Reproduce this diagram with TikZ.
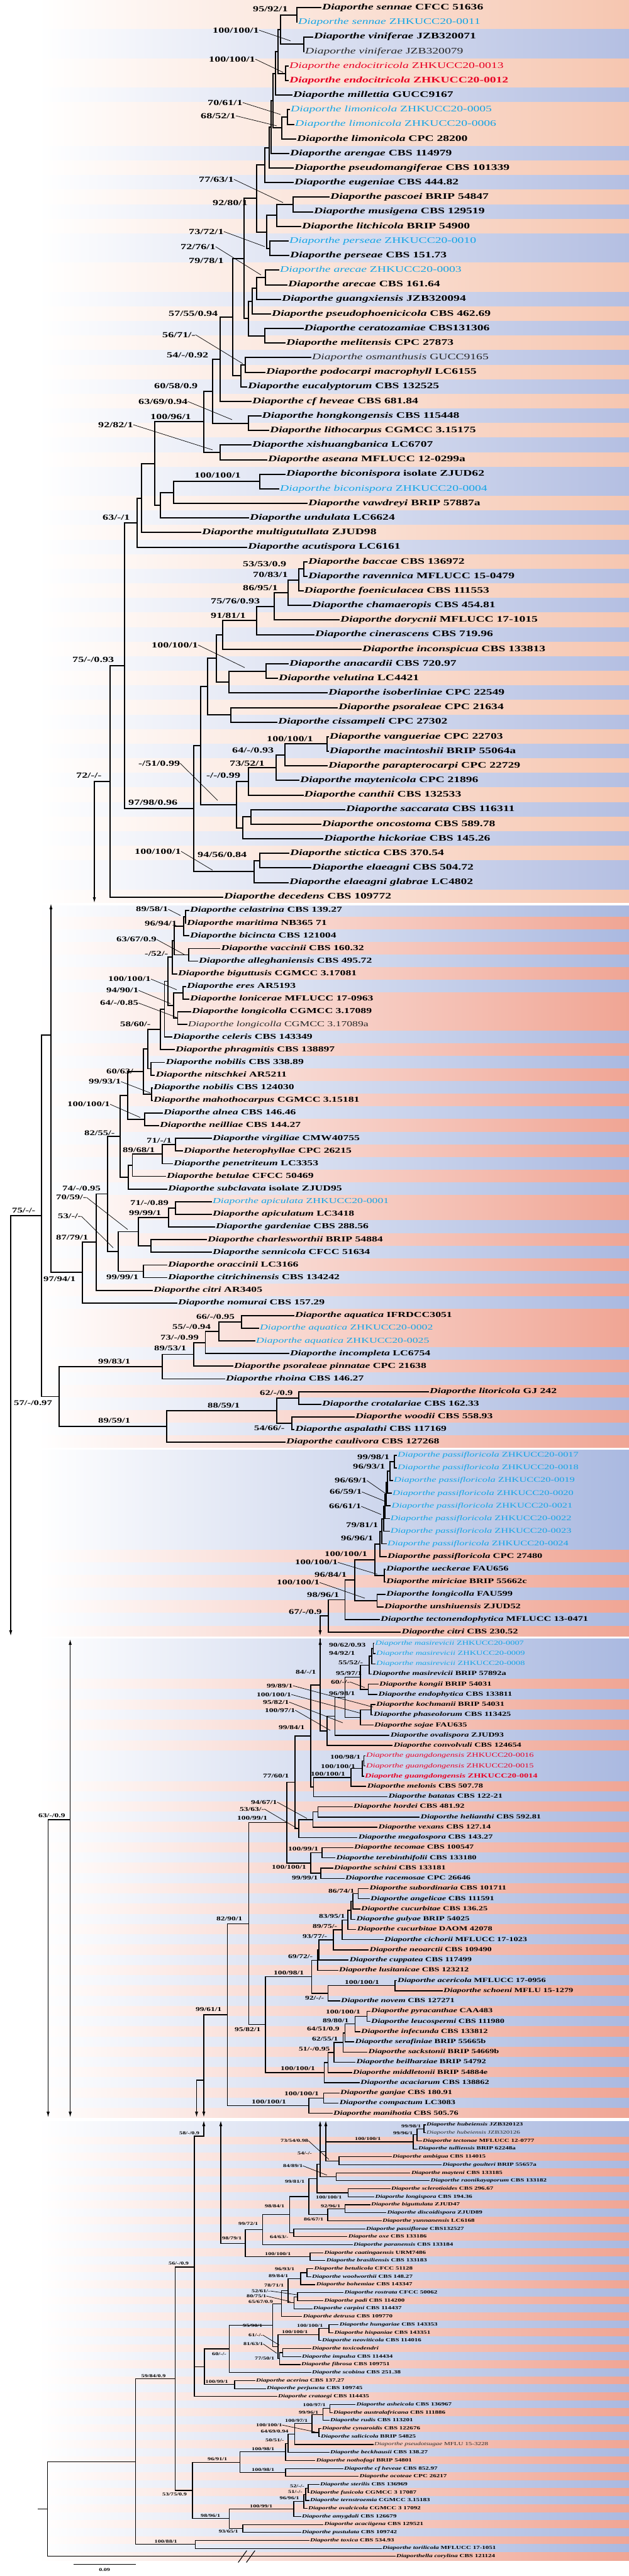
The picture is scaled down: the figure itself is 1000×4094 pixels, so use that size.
\documentclass[tikz,border=0pt]{standalone}
\usepackage{fontspec}
\setmainfont{Liberation Serif}
\newfontfamily\lbl[FakeStretch=1.45]{Liberation Serif}
\usetikzlibrary{positioning, calc, arrows.meta}
\pgfdeclarelayer{bg}
\pgfsetlayers{bg,main}

\definecolor{zblue}{RGB}{20,165,230}
\definecolor{zred}{RGB}{232,0,36}
\definecolor{bando}{RGB}{246,198,176}
\definecolor{bandb}{RGB}{180,191,226}

\newcount\svn
\def\bh{11.6}

% leaf: name, tip x, y, species, strain, style, band colour
\newcommand\lf[7]{%
  \node[leaf,#6] (#1) at (#2,#3) {\textit{#4} #5};
  \begin{pgfonlayer}{bg}
    \shade[left color=white, right color=band#7] (60,#3-\bh) rectangle (1000,#3+\bh);
  \end{pgfonlayer}}
% clade: name, x, child, child
\newcommand\cl[4]{%
  \coordinate (#1) at ($(#3)!.5!(#4)$);
  \coordinate (#1) at (#2,0 |- #1);
  \draw[br] (#1) |- (#3);
  \draw[br] (#1) |- (#4);}
% support value, with or without a leader line
\newcommand\sv[3]{\global\advance\svn by 1 \node[sup] (sv\the\svn) at (#1,#2) {#3};}
\newcommand\svl[4]{\sv{#1}{#2}{#3}\draw[ld] (sv\the\svn.east) -- (#4);}

\tikzset{
  leaf/.style={anchor=west, inner sep=2pt, leaffont},
  sup/.style={anchor=west, inner sep=0pt, supfont},
  nb/.style={text=black!85, execute at begin node=\mdseries},
  nz/.style={text=zblue, execute at begin node=\mdseries},
  rn/.style={text=zred, execute at begin node=\mdseries},
  rb/.style={text=zred},
  ld/.style={line width=0.7pt},
  arr/.style={line width=1.3pt, -{Latex[length=9pt,width=5pt]}},
}

\begin{document}
\begin{tikzpicture}[x=1pt,y=-1pt]
\useasboundingbox (0,0) rectangle (1000,4094);
\begin{pgfonlayer}{bg}
  \fill[white] (0,0) rectangle (1000,4094);
\end{pgfonlayer}

% ================= part 1 =================
\tikzset{leaffont/.style={font=\lbl\bfseries\fontsize{13.5}{15}\selectfont},
  supfont/.style={font=\lbl\bfseries\fontsize{12.5}{14}\selectfont},
  br/.style={line width=2pt, line cap=rect}}
\def\bh{11.6}
\lf{sen1}{510}{12.3}{Diaporthe sennae}{CFCC 51636}{}{o}
\lf{sen2}{472}{35.5}{Diaporthe sennae}{ZHKUCC20-0011}{nz}{o}
\lf{vin1}{497}{58.6}{Diaporthe viniferae}{JZB320071}{}{b}
\lf{vin2}{483}{81.8}{Diaporthe viniferae}{JZB320079}{nb}{b}
\lf{end1}{458}{105}{Diaporthe endocitricola}{ZHKUCC20-0013}{rn}{o}
\lf{end2}{458}{128.2}{Diaporthe endocitricola}{ZHKUCC20-0012}{rb}{o}
\lf{mil}{464}{151.3}{Diaporthe millettia}{GUCC9167}{}{b}
\lf{lim1}{460}{174.5}{Diaporthe limonicola}{ZHKUCC20-0005}{nz}{o}
\lf{lim2}{467}{197.7}{Diaporthe limonicola}{ZHKUCC20-0006}{nz}{o}
\lf{lim3}{470}{220.8}{Diaporthe limonicola}{CPC 28200}{}{o}
\lf{are}{459}{244}{Diaporthe arengae}{CBS 114979}{}{b}
\lf{psm}{466}{267.2}{Diaporthe pseudomangiferae}{CBS 101339}{}{o}
\lf{eug}{466}{290.3}{Diaporthe eugeniae}{CBS 444.82}{}{b}
\lf{pas}{523}{313.5}{Diaporthe pascoei}{BRIP 54847}{}{o}
\lf{mus}{497}{336.7}{Diaporthe musigena}{CBS 129519}{}{b}
\lf{lit}{478}{359.9}{Diaporthe litchicola}{BRIP 54900}{}{o}
\lf{per1}{458}{383}{Diaporthe perseae}{ZHKUCC20-0010}{nz}{b}
\lf{per2}{459}{406.2}{Diaporthe perseae}{CBS 151.73}{}{b}
\lf{arc1}{443}{429.4}{Diaporthe arecae}{ZHKUCC20-0003}{nz}{o}
\lf{arc2}{456}{452.5}{Diaporthe arecae}{CBS 161.64}{}{o}
\lf{gxi}{446}{475.7}{Diaporthe guangxiensis}{JZB320094}{}{b}
\lf{pph}{430}{498.9}{Diaporthe pseudophoenicicola}{CBS 462.69}{}{o}
\lf{cer}{481.5}{522}{Diaporthe ceratozamiae}{CBS131306}{}{b}
\lf{mel}{453}{545.2}{Diaporthe melitensis}{CPC 27873}{}{o}
\lf{osm}{494}{568.4}{Diaporthe osmanthusis}{GUCC9165}{nb}{b}
\lf{pod}{421}{591.6}{Diaporthe podocarpi macrophyll}{LC6155}{}{o}
\lf{euc}{392}{614.7}{Diaporthe eucalyptorum}{CBS 132525}{}{b}
\lf{cfh}{399}{637.9}{Diaporthe cf heveae}{CBS 681.84}{}{o}
\lf{hkg}{414.5}{661.1}{Diaporthe hongkongensis}{CBS 115448}{}{b}
\lf{lth}{427}{684.2}{Diaporthe lithocarpus}{CGMCC 3.15175}{}{o}
\lf{xsh}{399}{707.4}{Diaporthe xishuangbanica}{LC6707}{}{b}
\lf{ase}{424}{730.6}{Diaporthe aseana}{MFLUCC 12-0299a}{}{o}
\lf{bic1}{453}{753.7}{Diaporthe biconispora}{isolate ZJUD62}{}{b}
\lf{bic2}{443}{776.9}{Diaporthe biconispora}{ZHKUCC20-0004}{nz}{b}
\lf{vaw}{488}{800.1}{Diaporthe vawdreyi}{BRIP 57887a}{}{o}
\lf{und}{395}{823.3}{Diaporthe undulata}{LC6624}{}{b}
\lf{mgt}{319}{846.4}{Diaporthe multigutullata}{ZJUD98}{}{o}
\lf{acu}{392}{869.6}{Diaporthe acutispora}{LC6161}{}{b}
\lf{bac}{488}{892.8}{Diaporthe baccae}{CBS 136972}{}{o}
\lf{rav}{488}{915.9}{Diaporthe ravennica}{MFLUCC 15-0479}{}{b}
\lf{foe}{481.5}{939.1}{Diaporthe foeniculacea}{CBS 111553}{}{o}
\lf{cha}{494}{962.3}{Diaporthe chamaeropis}{CBS 454.81}{}{b}
\lf{dor}{539}{985.4}{Diaporthe dorycnii}{MFLUCC 17-1015}{}{o}
\lf{cin}{499}{1008.6}{Diaporthe cinerascens}{CBS 719.96}{}{b}
\lf{inc}{574}{1031.8}{Diaporthe inconspicua}{CBS 133813}{}{o}
\lf{ana}{458}{1054.9}{Diaporthe anacardii}{CBS 720.97}{}{b}
\lf{vel}{441}{1078.1}{Diaporthe velutina}{LC4421}{}{o}
\lf{iso}{520}{1101.3}{Diaporthe isoberliniae}{CPC 22549}{}{b}
\lf{pso}{536}{1124.5}{Diaporthe psoraleae}{CPC 21634}{}{o}
\lf{cis}{440}{1147.6}{Diaporthe cissampeli}{CPC 27302}{}{b}
\lf{van}{521.7}{1170.8}{Diaporthe vangueriae}{CPC 22703}{}{o}
\lf{mac}{521.7}{1194}{Diaporthe macintoshii}{BRIP 55064a}{}{b}
\lf{ppt}{520}{1217.1}{Diaporthe parapterocarpi}{CPC 22729}{}{o}
\lf{may}{475}{1240.3}{Diaporthe maytenicola}{CPC 21896}{}{b}
\lf{can}{481.5}{1263.5}{Diaporthe canthii}{CBS 132533}{}{o}
\lf{sac}{548}{1286.6}{Diaporthe saccarata}{CBS 116311}{}{b}
\lf{onc}{510}{1309.8}{Diaporthe oncostoma}{CBS 589.78}{}{o}
\lf{hic}{513}{1333}{Diaporthe hickoriae}{CBS 145.26}{}{b}
\lf{sti}{459}{1356.1}{Diaporthe stictica}{CBS 370.54}{}{o}
\lf{ela}{494}{1379.3}{Diaporthe elaeagni}{CBS 504.72}{}{b}
\lf{elg}{458}{1402.5}{Diaporthe elaeagni glabrae}{LC4802}{}{b}
\lf{dec}{354}{1425.7}{Diaporthe decedens}{CBS 109772}{}{o}

\cl{T1}{472}{sen1}{sen2}
\cl{T2}{483}{vin1}{vin2}
\cl{T3}{446}{T1}{T2}
\cl{T4}{454}{end1}{end2}
\cl{T5}{442}{T3}{T4}
\cl{T6}{438}{T5}{mil}
\cl{T7}{457}{lim1}{lim2}
\cl{T8}{448}{T7}{lim3}
\cl{T9}{434}{T6}{T8}
\cl{T10}{431}{T9}{are}
\cl{T11}{428}{T10}{psm}
\cl{T12}{421}{T11}{eug}
\cl{T13}{466}{pas}{mus}
\cl{T14}{440}{T13}{lit}
\cl{T17}{428.6}{per1}{per2}
\cl{T15}{424}{T14}{T17}
\cl{T16}{408}{T12}{T15}
\cl{T18}{422}{arc1}{arc2}
\cl{T19}{408}{T18}{gxi}
\cl{T20}{400.5}{T19}{pph}
\cl{T21}{421}{cer}{mel}
\cl{T22}{395}{T20}{T21}
\cl{T23}{388}{T16}{T22}
\cl{T24}{390}{osm}{pod}
\cl{T25}{383}{T24}{euc}
\cl{T26}{370}{T23}{T25}
\cl{T27}{349.5}{T26}{cfh}
\cl{T28}{395}{hkg}{lth}
\cl{T29}{338}{T27}{T28}
\cl{T30}{349.5}{xsh}{ase}
\cl{T31}{324}{T29}{T30}
\cl{T32}{413}{bic1}{bic2}
\cl{T33}{276}{T32}{vaw}
\cl{T34}{255}{T33}{und}
\cl{T35}{245.5}{T31}{T34}
\cl{T36}{224.5}{T35}{mgt}
\cl{T37}{218}{T36}{acu}
\cl{B1}{483}{bac}{rav}
\cl{B2}{475}{B1}{foe}
\cl{B3}{458}{B2}{cha}
\cl{B4}{435.6}{B3}{dor}
\cl{B5}{408}{B4}{cin}
\cl{B6}{354}{B5}{inc}
\cl{B7}{423}{ana}{vel}
\cl{B8}{363.5}{B7}{iso}
\cl{B9}{344}{B6}{B8}
\cl{B10}{367}{pso}{cis}
\cl{B11}{330}{B9}{B10}
\cl{V1}{520}{van}{mac}
\cl{V2}{453}{V1}{ppt}
\cl{V3}{439}{V2}{may}
\cl{V4}{395}{V3}{can}
\cl{V5}{398.6}{sac}{onc}
\cl{V6}{386}{V5}{hic}
\cl{V7}{376}{V4}{V6}
\cl{B12}{319}{B11}{V7}
\cl{E1}{413}{sti}{ela}
\cl{E2}{404}{E1}{elg}
\cl{B13}{308}{B12}{E2}
\cl{R1}{198}{T37}{B13}
\cl{R2}{175}{R1}{dec}
\coordinate (a150) at (150,0 |- R2);
\draw[br] (a150) -- (R2);
\draw[arr] (a150) -- (150,1435);

\sv{402}{14}{95/92/1}
\svl{338}{48}{100/100/1}{462,65}
\svl{332}{94}{100/100/1}{450,115}
\svl{330}{163}{70/61/1}{446,182}
\svl{319}{184}{68/52/1}{440,200}
\svl{316}{285}{77/63/1}{450,322}
\sv{338}{322}{92/80/1}
\svl{300}{368}{73/72/1}{421,392}
\svl{287}{392}{72/76/1}{415,437}
\sv{300}{414}{79/78/1}
\sv{268}{498}{57/55/0.94}
\svl{258}{532}{56/71/-}{386,578}
\sv{265}{564}{54/-/0.92}
\sv{245}{613}{60/58/0.9}
\svl{220}{638}{63/69/0.94}{369,667}
\sv{239}{662}{100/96/1}
\svl{156}{675}{92/82/1}{338,715}
\sv{309}{755}{100/100/1}
\sv{163}{822}{63/-/1}
\sv{386}{896}{53/53/0.9}
\sv{402}{913}{70/83/1}
\sv{386}{934}{86/95/1}
\sv{335}{955}{75/76/0.93}
\sv{335}{978}{91/81/1}
\svl{241}{1025}{100/100/1}{389,1061}
\sv{115}{1048}{75/-/0.93}
\sv{424}{1174}{100/100/1}
\sv{369}{1192}{64/-/0.93}
\sv{365}{1213}{73/52/1}
\svl{220}{1213}{-/51/0.99}{346,1272}
\sv{328}{1232}{-/-/0.99}
\sv{121}{1232}{72/-/-}
\sv{204}{1275}{97/98/0.96}
\svl{214}{1353}{100/100/1}{338,1383}
\sv{314}{1358}{94/56/0.84}

% ================= part 2 =================
\definecolor{bando}{RGB}{240,165,148}
\definecolor{bandb}{RGB}{170,185,224}
\tikzset{leaffont/.style={font=\lbl\bfseries\fontsize{12.2}{14}\selectfont},
  supfont/.style={font=\lbl\bfseries\fontsize{11.5}{13}\selectfont},
  br/.style={line width=1.8pt, line cap=rect}}
\def\bh{10.06}
\lf{cel}{300}{1447}{Diaporthe celastrina}{CBS 139.27}{}{b}
\lf{mar}{295}{1467.1}{Diaporthe maritima}{NB365 71}{}{o}
\lf{bci}{300}{1487.2}{Diaporthe bicincta}{CBS 121004}{}{b}
\lf{vac}{349.5}{1507.4}{Diaporthe vaccinii}{CBS 160.32}{}{o}
\lf{all}{314}{1527.5}{Diaporthe alleghaniensis}{CBS 495.72}{}{b}
\lf{bgt}{281}{1547.6}{Diaporthe biguttusis}{CGMCC 3.17081}{}{o}
\lf{ere}{295}{1567.7}{Diaporthe eres}{AR5193}{}{b}
\lf{lon}{300}{1587.8}{Diaporthe lonicerae}{MFLUCC 17-0963}{}{o}
\lf{lg1}{303}{1608}{Diaporthe longicolla}{CGMCC 3.17089}{}{o}
\lf{lg2}{296.6}{1628.1}{Diaporthe longicolla}{CGMCC 3.17089a}{nb}{o}
\lf{cel2}{273}{1648.2}{Diaporthe celeris}{CBS 143349}{}{b}
\lf{phr}{277}{1668.3}{Diaporthe phragmitis}{CBS 138897}{}{o}
\lf{nb1}{261.5}{1688.4}{Diaporthe nobilis}{CBS 338.89}{}{b}
\lf{nit}{245.5}{1708.6}{Diaporthe nitschkei}{AR5211}{}{o}
\lf{nb2}{242}{1728.7}{Diaporthe nobilis}{CBS 124030}{}{b}
\lf{mah}{242}{1748.8}{Diaporthe mahothocarpus}{CGMCC 3.15181}{}{o}
\lf{aln}{258}{1768.9}{Diaporthe alnea}{CBS 146.46}{}{b}
\lf{nei}{252}{1789}{Diaporthe neilliae}{CBS 144.27}{}{o}
\lf{vir}{336}{1809.2}{Diaporthe virgiliae}{CMW40755}{}{b}
\lf{het}{290}{1829.3}{Diaporthe heterophyllae}{CPC 26215}{}{o}
\lf{pen}{274}{1849.4}{Diaporthe penetriteum}{LC3353}{}{b}
\lf{bet}{263}{1869.5}{Diaporthe betulae}{CFCC 50469}{}{o}
\lf{sub}{265}{1889.6}{Diaporthe subclavata}{isolate ZJUD95}{}{b}
\lf{api1}{336}{1909.8}{Diaporthe apiculata}{ZHKUCC20-0001}{nz}{o}
\lf{api2}{336}{1929.9}{Diaporthe apiculatum}{LC3418}{}{o}
\lf{gar}{341}{1950}{Diaporthe gardeniae}{CBS 288.56}{}{b}
\lf{chr}{328}{1970.1}{Diaporthe charlesworthii}{BRIP 54884}{}{o}
\lf{snc}{336}{1990.2}{Diaporthe sennicola}{CFCC 51634}{}{b}
\lf{ora}{265}{2010.4}{Diaporthe oraccinii}{LC3166}{}{o}
\lf{ctc}{265}{2030.5}{Diaporthe citrichinensis}{CBS 134242}{}{b}
\lf{ctr}{242}{2050.6}{Diaporthe citri}{AR3405}{}{o}
\lf{nom}{281}{2070.7}{Diaporthe nomurai}{CBS 157.29}{}{b}
\lf{aq1}{467}{2090.8}{Diaporthe aquatica}{IFRDCC3051}{}{o}
\lf{aq2}{411}{2111}{Diaporthe aquatica}{ZHKUCC20-0002}{nz}{o}
\lf{aq3}{405}{2131.1}{Diaporthe aquatica}{ZHKUCC20-0025}{nz}{o}
\lf{icp}{459}{2151.2}{Diaporthe incompleta}{LC6754}{}{b}
\lf{psp}{370}{2171.3}{Diaporthe psoraleae pinnatae}{CPC 21638}{}{o}
\lf{rho}{357}{2191.4}{Diaporthe rhoina}{CBS 146.27}{}{b}
\lf{ltr}{681}{2211.6}{Diaporthe litoricola}{GJ 242}{}{o}
\lf{cro}{510}{2231.7}{Diaporthe crotalariae}{CBS 162.33}{}{b}
\lf{woo}{563}{2251.8}{Diaporthe woodii}{CBS 558.93}{}{o}
\lf{asp}{467.5}{2271.9}{Diaporthe aspalathi}{CBS 117169}{}{b}
\lf{cau}{453}{2292}{Diaporthe caulivora}{CBS 127268}{}{o}

\cl{C1}{294.6}{cel}{mar}
\cl{C2}{292}{C1}{bci}
\cl{C3}{300}{vac}{all}
\cl{C4}{277}{C2}{C3}
\cl{C5}{274}{C4}{bgt}
\cl{C6}{291}{ere}{lon}
\cl{C7}{282.5}{lg1}{lg2}
\cl{C8}{276}{C6}{C7}
\cl{C9}{266.6}{C5}{C8}
\cl{C10}{261.5}{C9}{cel2}
\cl{C11}{255}{C10}{phr}
\cl{C12}{240}{nb1}{nit}
\cl{C13}{234.7}{C11}{C12}
\cl{C14}{241}{nb2}{mah}
\cl{C15}{227.7}{C13}{C14}
\cl{C16}{229.6}{aln}{nei}
\cl{C17}{203}{C15}{C16}
\cl{D1}{279}{vir}{het}
\cl{D2}{258}{D1}{pen}
\cl{D3}{210.5}{D2}{bet}
\cl{D4}{204}{D3}{sub}
\cl{C18}{191}{C17}{D4}
\cl{F1}{279}{api1}{api2}
\cl{F2}{268}{F1}{gar}
\cl{F3}{240}{chr}{snc}
\cl{F4}{220}{F2}{F3}
\cl{F5}{228}{ora}{ctc}
\cl{F6}{188}{F4}{F5}
\cl{F7}{171}{C18}{F6}
\cl{F8}{153}{F7}{ctr}
\cl{F9}{131}{F8}{nom}
\cl{G1}{384}{aq1}{aq2}
\cl{G2}{347.6}{G1}{aq3}
\cl{G3}{326.5}{G2}{icp}
\cl{G4}{308}{G3}{psp}
\cl{G5}{258}{G4}{rho}
\cl{H1}{475}{ltr}{cro}
\cl{H2}{463.6}{woo}{asp}
\cl{H3}{440}{H1}{H2}
\cl{H4}{265}{H3}{cau}
\cl{G6}{94}{G5}{H4}
\coordinate (k81) at (81,0 |- F9);
\draw[br] (k81) -- (F9);
\draw[arr] (k81) -- (81,1436);
\coordinate (k81b) at (81,1645);
\cl{k66}{66}{k81b}{G6}
\coordinate (k17) at (17,0 |- k66);
\draw[br] (k17) -- (k66);
\draw[arr] (k17) -- (17,2600);

\svl{216}{1445}{89/58/1}{287,1455}
\sv{230}{1468}{96/94/1}
\svl{185}{1493}{63/67/0.9}{293,1517}
\sv{230}{1516}{-/52/-}
\svl{172}{1556}{100/100/1}{281,1573}
\svl{169}{1574}{94/90/1}{271,1595}
\svl{159}{1594}{64/-/0.85}{281,1617}
\sv{191}{1628}{58/60/-}
\sv{169}{1703}{60/63/-}
\svl{141}{1719}{99/93/1}{239,1737}
\svl{107}{1755}{100/100/1}{223,1776}
\sv{134}{1801}{82/55/-}
\sv{233}{1813}{71/-/1}
\sv{195}{1828}{89/68/1}
\sv{99}{1889}{74/-/0.95}
\svl{89}{1903}{70/59/-}{203,1954}
\sv{207}{1912}{71/-/0.89}
\sv{205}{1928}{99/99/1}
\svl{92}{1933}{53/-/-}{180,1983}
\sv{19}{1924}{75/-/-}
\sv{89}{1967}{87/79/1}
\sv{169}{2030}{99/99/1}
\sv{69}{2033}{97/94/1}
\sv{312}{2093}{66/-/0.95}
\sv{274}{2109}{55/-/0.94}
\sv{255}{2126}{73/-/0.99}
\sv{245}{2143}{89/53/1}
\sv{156}{2164}{99/83/1}
\sv{413}{2214}{62/-/0.9}
\sv{22}{2230}{57/-/0.97}
\sv{330}{2234}{88/59/1}
\sv{156}{2258}{89/59/1}
\sv{404}{2270}{54/66/-}

% ================= part 3 =================
\tikzset{leaffont/.style={font=\lbl\bfseries\fontsize{11.3}{13}\selectfont}}
\def\bh{10.03}
\lf{p17}{630}{2313}{Diaporthe passifloricola}{ZHKUCC20-0017}{nz}{b}
\lf{p18}{630}{2333.1}{Diaporthe passifloricola}{ZHKUCC20-0018}{nz}{b}
\lf{p19}{624}{2353.1}{Diaporthe passifloricola}{ZHKUCC20-0019}{nz}{b}
\lf{p20}{622}{2373.2}{Diaporthe passifloricola}{ZHKUCC20-0020}{nz}{b}
\lf{p21}{620.5}{2393.3}{Diaporthe passifloricola}{ZHKUCC20-0021}{nz}{b}
\lf{p22}{618.6}{2413.4}{Diaporthe passifloricola}{ZHKUCC20-0022}{nz}{b}
\lf{p23}{618.6}{2433.4}{Diaporthe passifloricola}{ZHKUCC20-0023}{nz}{b}
\lf{p24}{614}{2453.5}{Diaporthe passifloricola}{ZHKUCC20-0024}{nz}{b}
\lf{pCPC}{614}{2473.6}{Diaporthe passifloricola}{CPC 27480}{}{o}
\lf{uck}{612}{2493.6}{Diaporthe ueckerae}{FAU656}{}{b}
\lf{mir}{612}{2513.7}{Diaporthe miriciae}{BRIP 55662c}{}{o}
\lf{fau}{612}{2533.8}{Diaporthe longicolla}{FAU599}{}{b}
\lf{uns}{609}{2553.8}{Diaporthe unshiuensis}{ZJUD52}{}{o}
\lf{ttd}{603}{2573.9}{Diaporthe tectonendophytica}{MFLUCC 13-0471}{}{b}
\lf{ctb}{636.5}{2594}{Diaporthe citri}{CBS 230.52}{}{o}

\cl{P1}{627}{p17}{p18}
\cl{P2}{620}{P1}{p19}
\cl{P3}{616}{P2}{p20}
\cl{P4}{614}{P3}{p21}
\cl{P5}{612}{P4}{p22}
\cl{P6}{610}{P5}{p23}
\cl{P7}{607}{P6}{p24}
\cl{P8}{604}{P7}{pCPC}
\cl{P9}{611}{uck}{mir}
\cl{P10}{596.3}{P8}{P9}
\cl{P11}{599.5}{fau}{uns}
\cl{P12}{564}{P10}{P11}
\cl{P13}{548.5}{P12}{ttd}
\cl{P14}{521.7}{P13}{ctb}
\coordinate (c509) at (509,0 |- P14);
\draw[br] (c509) -- (P14);
\draw[arr] (c509) -- (509,2600);

\sv{568}{2316}{99/98/1}
\sv{561}{2331}{96/93/1}
\svl{532}{2353}{96/69/1}{615,2375}
\svl{524}{2371}{66/59/1}{612,2386}
\svl{523}{2394}{66/61/1}{606,2407}
\sv{550}{2424}{79/81/1}
\sv{542}{2445}{96/96/1}
\sv{516}{2470}{100/100/1}
\svl{469}{2483}{100/100/1}{600,2502}
\sv{500}{2503}{96/84/1}
\svl{440}{2515}{100/100/1}{580,2540}
\sv{488}{2535}{98/96/1}
\sv{459}{2562}{67/-/0.9}

% ================= part 4 =================
\tikzset{leaffont/.style={font=\lbl\bfseries\fontsize{9.9}{11}\selectfont},
  supfont/.style={font=\lbl\bfseries\fontsize{9.3}{11}\selectfont},
  br/.style={line width=1.4pt, line cap=rect}}
\def\bh{8.12}
\lf{m7}{594.4}{2611.7}{Diaporthe masirevicii}{ZHKUCC20-0007}{nz}{b}
\lf{m9}{596}{2627.9}{Diaporthe masirevicii}{ZHKUCC20-0009}{nz}{b}
\lf{m8}{596}{2644.2}{Diaporthe masirevicii}{ZHKUCC20-0008}{nz}{b}
\lf{mB}{590}{2660.4}{Diaporthe masirevicii}{BRIP 57892a}{}{b}
\lf{kon}{601}{2676.7}{Diaporthe kongii}{BRIP 54031}{}{o}
\lf{edp}{599.5}{2692.9}{Diaporthe endophytica}{CBS 133811}{}{b}
\lf{koc}{596}{2709.1}{Diaporthe kochmanii}{BRIP 54031}{}{o}
\lf{pha}{592}{2725.4}{Diaporthe phaseolorum}{CBS 113425}{}{b}
\lf{soj}{593}{2741.6}{Diaporthe sojae}{FAU635}{}{o}
\lf{ova}{618.6}{2757.9}{Diaporthe ovalispora}{ZJUD93}{}{b}
\lf{con}{623.7}{2774.1}{Diaporthe convolvuli}{CBS 124654}{}{o}
\lf{g16}{580}{2790.3}{Diaporthe guangdongensis}{ZHKUCC20-0016}{rn}{b}
\lf{g15}{580}{2806.6}{Diaporthe guangdongensis}{ZHKUCC20-0015}{rn}{b}
\lf{g14}{578}{2822.8}{Diaporthe guangdongensis}{ZHKUCC20-0014}{rb}{b}
\lf{mlo}{581.6}{2839.1}{Diaporthe melonis}{CBS 507.78}{}{o}
\lf{bat}{615.4}{2855.3}{Diaporthe batatas}{CBS 122-21}{}{b}
\lf{hor}{560}{2871.5}{Diaporthe hordei}{CBS 481.92}{}{o}
\lf{hel}{666.5}{2887.8}{Diaporthe helianthi}{CBS 592.81}{}{b}
\lf{vex}{599.5}{2904}{Diaporthe vexans}{CBS 127.14}{}{o}
\lf{meg}{567.6}{2920.3}{Diaporthe megalospora}{CBS 143.27}{}{b}
\lf{tec}{561}{2936.5}{Diaporthe tecomae}{CBS 100547}{}{o}
\lf{ter}{532.5}{2952.7}{Diaporthe terebinthifolii}{CBS 133180}{}{b}
\lf{sch}{529}{2969}{Diaporthe schini}{CBS 133181}{}{o}
\lf{rac}{547}{2985.2}{Diaporthe racemosae}{CPC 26646}{}{b}
\lf{sbd}{585.5}{3001.5}{Diaporthe subordinaria}{CBS 101711}{}{o}
\lf{ang}{587}{3017.7}{Diaporthe angelicae}{CBS 111591}{}{b}
\lf{cuc}{572}{3033.9}{Diaporthe cucurbitae}{CBS 136.25}{}{o}
\lf{gul}{564.4}{3050.2}{Diaporthe gulyae}{BRIP 54025}{}{b}
\lf{cud}{565.7}{3066.4}{Diaporthe cucurbitae}{DAOM 42078}{}{o}
\lf{cic}{609}{3082.7}{Diaporthe cichorii}{MFLUCC 17-1023}{}{b}
\lf{neo}{585.5}{3098.9}{Diaporthe neoarctii}{CBS 109490}{}{o}
\lf{cup}{553.6}{3115.1}{Diaporthe cuppatea}{CBS 117499}{}{b}
\lf{lus}{537}{3131.4}{Diaporthe lusitanicae}{CBS 123212}{}{o}
\lf{acc}{630}{3147.6}{Diaporthe acericola}{MFLUCC 17-0956}{}{b}
\lf{sch2}{703}{3163.9}{Diaporthe schoeni}{MFLU 15-1279}{}{o}
\lf{nov}{540}{3180.1}{Diaporthe novem}{CBS 127271}{}{b}
\lf{pyr}{588}{3196.3}{Diaporthe pyracanthae}{CAA483}{}{o}
\lf{leu}{588}{3212.6}{Diaporthe leucospermi}{CBS 111980}{}{b}
\lf{inf}{572}{3228.8}{Diaporthe infecunda}{CBS 133812}{}{o}
\lf{ser}{562.5}{3245.1}{Diaporthe serafiniae}{BRIP 55665b}{}{b}
\lf{sak}{583.5}{3261.3}{Diaporthe sackstonii}{BRIP 54669b}{}{o}
\lf{bei}{564.4}{3277.5}{Diaporthe beilharziae}{BRIP 54792}{}{b}
\lf{mid}{559}{3293.8}{Diaporthe middletonii}{BRIP 54884e}{}{o}
\lf{aca}{571}{3310}{Diaporthe acaciarum}{CBS 138862}{}{b}
\lf{gan}{539}{3326.3}{Diaporthe ganjae}{CBS 180.91}{}{o}
\lf{com}{537.6}{3342.5}{Diaporthe compactum}{LC3083}{}{b}
\lf{man}{528}{3358.7}{Diaporthe manihotia}{CBS 505.76}{}{o}

\cl{M1}{593.5}{m7}{m9}
\cl{M2}{591}{M1}{m8}
\cl{M3}{587}{M2}{mB}
\cl{M4}{585.5}{kon}{edp}
\cl{M5}{573}{M3}{M4}
\cl{K1}{590}{koc}{pha}
\cl{K2}{573}{K1}{soj}
\cl{K3}{548.5}{M5}{K2}
\cl{K4}{532.5}{K3}{ova}
\cl{K5}{520}{K4}{con}
\coordinate (a509t) at (509,2605);
\cl{a509}{509}{a509t}{K5}
\draw[arr] (a509) -- (a509t);
\cl{Gd1}{578.4}{g16}{g15}
\cl{Gd2}{576}{Gd1}{g14}
\cl{Gd3}{558}{Gd2}{mlo}
\cl{Gd4}{498.7}{Gd3}{bat}
\cl{N775}{494}{a509}{Gd4}
\cl{Hd1}{505.7}{hor}{hel}
\cl{Hd2}{497.4}{Hd1}{vex}
\cl{Hd3}{475}{Hd2}{meg}
\cl{N735}{469}{N775}{Hd3}
\cl{Tc1}{512}{tec}{ter}
\cl{Tc2}{510}{sch}{rac}
\cl{Tc3}{494}{Tc1}{Tc2}
\cl{N715}{456}{N735}{Tc3}
\cl{Sb1}{569.5}{sbd}{ang}
\cl{Sb2}{561}{Sb1}{cuc}
\cl{Sb3}{558}{Sb2}{gul}
\cl{Sb4}{553}{Sb3}{cud}
\cl{Sb5}{544}{Sb4}{cic}
\cl{Sb6}{530}{Sb5}{neo}
\cl{Sb7}{507}{Sb6}{cup}
\cl{Sb8}{505}{Sb7}{lus}
\cl{Ac1}{628}{acc}{sch2}
\cl{Ac2}{521.7}{Ac1}{nov}
\cl{Sb9}{495.5}{Sb8}{Ac2}
\cl{Py1}{583.5}{pyr}{leu}
\cl{Py2}{564.4}{Py1}{inf}
\cl{Py3}{548.5}{Py2}{ser}
\cl{Py4}{545.3}{Py3}{sak}
\cl{Py5}{531}{Py4}{bei}
\cl{Py6}{521.7}{Py5}{mid}
\cl{Py7}{515.3}{Py6}{aca}
\cl{N662}{422}{Sb9}{Py7}
\cl{N620}{395.4}{N715}{N662}
\cl{Gj1}{514.7}{gan}{com}
\cl{Gj2}{491}{Gj1}{man}
\cl{N567}{361.6}{N620}{Gj2}
\coordinate (b324) at (324,0 |- N567);
\draw[br] (b324) -- (N567);
\draw[arr] (b324) -- (324,3365);
\coordinate (b312) at (312.5,3306);
\draw[br] (b312) -- (324,3306);
\draw[arr] (b312) -- (312.5,3365);
\coordinate (b111) at (111.6,2892);
\coordinate (b76) at (76.5,2892);
\draw[br] (b76) -- (b111);
\draw[arr] (b111) -- (111.6,2605);
\draw[arr] (b111) -- (111.6,3365);
\draw[arr] (b76) -- (76.5,3365);

\sv{523}{2614}{90/62/0.93}
\sv{523}{2627}{94/92/1}
\sv{538}{2642}{55/52/-}
\sv{470}{2657}{84/-/1}
\sv{534}{2659}{95/97/1}
\svl{526}{2673}{60/-/-}{580,2682}
\svl{424}{2679}{99/89/1}{593,2713}
\sv{523}{2691}{96/98/1}
\svl{408}{2693}{100/100/1}{574,2723}
\svl{418}{2705}{95/82/1}{545,2738}
\svl{421}{2718}{100/97/1}{525,2750}
\sv{443}{2745}{99/84/1}
\sv{525}{2792}{100/98/1}
\sv{510}{2807}{100/100/1}
\sv{494}{2819}{100/100/1}
\sv{418}{2822}{77/60/1}
\svl{399}{2864}{94/67/1}{488,2890}
\svl{381}{2875}{53/63/-}{471,2905}
\sv{377}{2889}{100/99/1}
\sv{61}{2885}{63/-/0.9}
\sv{458}{2938}{100/99/1}
\sv{432}{2967}{100/100/1}
\sv{464}{2984}{99/99/1}
\sv{522}{3005}{86/74/1}
\sv{507}{3045}{83/95/1}
\sv{344}{3049}{82/90/1}
\sv{497}{3061}{89/75/-}
\sv{481}{3077}{93/77/-}
\sv{458}{3109}{69/72/-}
\sv{435}{3135}{100/98/1}
\sv{548}{3150}{100/100/1}
\sv{485}{3175}{92/-/-}
\sv{311}{3193}{99/61/1}
\sv{518}{3197}{100/100/1}
\sv{513}{3211}{89/80/1}
\sv{488}{3224}{64/51/0.9}
\sv{373}{3225}{95/82/1}
\sv{496}{3240}{62/55/1}
\sv{475}{3256}{51/-/0.95}
\sv{446}{3287}{100/100/1}
\sv{452}{3327}{100/100/1}
\sv{400}{3340}{100/100/1}

% ================= part 5 =================
\tikzset{leaffont/.style={font=\lbl\bfseries\fontsize{7.6}{9}\selectfont},
  supfont/.style={font=\lbl\bfseries\fontsize{7}{8}\selectfont},
  br/.style={line width=1.1pt, line cap=rect}}
\def\bh{6.35}
\lf{hub1}{676}{3377}{Diaporthe hubeiensis}{JZB320123}{}{b}
\lf{hub2}{676}{3389.7}{Diaporthe hubeiensis}{JZB320126}{nb}{b}
\lf{tct}{670}{3402.4}{Diaporthe tectonae}{MFLUCC 12-0777}{}{o}
\lf{tul}{663}{3415.1}{Diaporthe tulliensis}{BRIP 62248a}{}{b}
\lf{amb}{622}{3427.8}{Diaporthe ambigua}{CBS 114015}{}{o}
\lf{gou}{701.5}{3440.5}{Diaporthe goulteri}{BRIP 55657a}{}{b}
\lf{myt}{651.8}{3453.2}{Diaporthe mayteni}{CBS 133185}{}{o}
\lf{rao}{682.4}{3465.9}{Diaporthe raonikayaporum}{CBS 133182}{}{b}
\lf{scl}{620}{3478.6}{Diaporthe sclerotioides}{CBS 296.67}{}{o}
\lf{lgs}{594.4}{3491.3}{Diaporthe longispora}{CBS 194.36}{}{b}
\lf{bgl}{588}{3504}{Diaporthe biguttulata}{ZJUD47}{}{o}
\lf{dis}{613.5}{3516.7}{Diaporthe discoidispora}{ZJUD89}{}{b}
\lf{yun}{606}{3529.4}{Diaporthe yunnanensis}{LC6168}{}{o}
\lf{psf}{580}{3542.1}{Diaporthe passiflorae}{CBS132527}{}{b}
\lf{oxe}{551.7}{3554.8}{Diaporthe oxe}{CBS 133186}{}{o}
\lf{par}{560}{3567.5}{Diaporthe paranensis}{CBS 133184}{}{b}
\lf{caa}{513.4}{3580.2}{Diaporthe caatingaensis}{URM7486}{}{o}
\lf{bra}{516.6}{3592.9}{Diaporthe brasiliensis}{CBS 133183}{}{b}
\lf{btc}{497.5}{3605.6}{Diaporthe betulicola}{CFCC 51128}{}{o}
\lf{wlw}{494}{3618.3}{Diaporthe woolworthii}{CBS 148.27}{}{b}
\lf{boh}{500.6}{3631}{Diaporthe bohemiae}{CBS 143347}{}{o}
\lf{ros}{545.3}{3643.7}{Diaporthe rostrata}{CFCC 50062}{}{b}
\lf{pad}{513.4}{3656.4}{Diaporthe padi}{CBS 114200}{}{o}
\lf{car}{496}{3669.1}{Diaporthe carpini}{CBS 114437}{}{b}
\lf{det}{479.6}{3681.8}{Diaporthe detrusa}{CBS 109770}{}{o}
\lf{hun}{537.6}{3694.5}{Diaporthe hungariae}{CBS 143353}{}{b}
\lf{his}{529.3}{3707.2}{Diaporthe hispaniae}{CBS 143351}{}{o}
\lf{nvt}{510}{3719.9}{Diaporthe neoviticola}{CBS 114016}{}{b}
\lf{txd}{494}{3732.6}{Diaporthe toxicodendri}{}{}{o}
\lf{imp}{478}{3745.3}{Diaporthe impulsa}{CBS 114434}{}{b}
\lf{fib}{477}{3758}{Diaporthe fibrosa}{CBS 109751}{}{o}
\lf{scb}{494}{3770.7}{Diaporthe scobina}{CBS 251.38}{}{b}
\lf{acr}{405}{3783.4}{Diaporthe acerina}{CBS 137.27}{}{o}
\lf{prj}{422}{3796.1}{Diaporthe perjuncta}{CBS 109745}{}{b}
\lf{cra}{440}{3808.8}{Diaporthe crataegi}{CBS 114435}{}{o}
\lf{ash}{564.4}{3821.5}{Diaporthe asheicola}{CBS 136967}{}{b}
\lf{aus}{528}{3834.2}{Diaporthe australafricana}{CBS 111886}{}{o}
\lf{rud}{523}{3846.9}{Diaporthe rudis}{CBS 113201}{}{b}
\lf{cyn}{510}{3859.6}{Diaporthe cynaroidis}{CBS 122676}{}{o}
\lf{sal}{508}{3872.3}{Diaporthe salicicola}{BRIP 54825}{}{b}
\lf{pst}{593}{3885}{Diaporthe pseudotsugae}{MFLU 15-3228}{nb}{o}
\lf{bck}{523}{3897.7}{Diaporthe beckhausii}{CBS 138.27}{}{b}
\lf{not}{500.6}{3910.4}{Diaporthe nothofagi}{BRIP 54801}{}{o}
\lf{cfh2}{545}{3923.1}{Diaporthe cf heveae}{CBS 852.97}{}{b}
\lf{oco}{569.5}{3935.8}{Diaporthe ocoteae}{CPC 26217}{}{o}
\lf{ste}{507}{3948.5}{Diaporthe sterilis}{CBS 136969}{}{b}
\lf{fus}{491}{3961.2}{Diaporthe fusicola}{CGMCC 3 17087}{}{o}
\lf{trn}{491}{3973.9}{Diaporthe ternstroemia}{CGMCC 3.15183}{}{b}
\lf{ovc}{488}{3986.6}{Diaporthe ovalcicola}{CGMCC 3 17092}{}{o}
\lf{amy}{478}{3999.3}{Diaporthe amygdali}{CBS 126679}{}{b}
\lf{acg}{513.4}{4012}{Diaporthe acaciigena}{CBS 129521}{}{o}
\lf{pus}{478}{4024.7}{Diaporthe pustulata}{CBS 109742}{}{b}
\lf{txc}{491}{4037.4}{Diaporthe toxica}{CBS 534.93}{}{o}
\lf{tor}{606}{4050.1}{Diaporthe torilicola}{MFLUCC 17-1051}{}{b}
\lf{cor}{628}{4062.8}{Diaporthella corylina}{CBS 121124}{}{o}

\cl{h1}{674}{hub1}{hub2}
\cl{h2}{663}{h1}{tct}
\cl{h3}{657}{h2}{tul}
\cl{u0}{539}{amb}{gou}
\cl{u1}{534.4}{myt}{rao}
\cl{u2}{553.6}{scl}{lgs}
\cl{u3}{518}{h3}{u0}
\cl{u4}{509}{u3}{u1}
\cl{u5}{504}{u4}{u2}
\draw[arr] (u3) -- (518,3370);
\draw[arr] (u4) -- (509,3370);
\cl{w1}{548.5}{bgl}{dis}
\cl{w2}{521}{w1}{yun}
\cl{u6}{491}{u5}{w2}
\cl{x1}{467}{psf}{oxe}
\cl{u7}{460.5}{u6}{x1}
\cl{u8}{417.7}{u7}{par}
\cl{y1}{493}{caa}{bra}
\cl{u9}{390}{u8}{y1}
\coordinate (k351) at (351,0 |- u9);
\draw[br] (k351) -- (u9);
\draw[arr] (k351) -- (351,3370);
\cl{z1}{488}{btc}{wlw}
\cl{z2}{478}{z1}{boh}
\cl{z3}{473}{ros}{pad}
\cl{z4}{467.5}{z3}{car}
\cl{z5}{458}{z2}{z4}
\cl{z6}{447.7}{z5}{det}
\cl{z7}{523}{hun}{his}
\cl{z8}{507}{z7}{nvt}
\cl{z9}{449.6}{txd}{imp}
\cl{z10}{444.5}{z9}{fib}
\cl{z11}{442}{z8}{z10}
\cl{z12}{433.7}{z6}{z11}
\cl{z13}{364.8}{z12}{scb}
\cl{z14}{373}{acr}{prj}
\cl{z15}{325}{z13}{z14}
\cl{z16}{309}{z15}{cra}
\coordinate (k324) at (324,3395);
\coordinate (k309) at (309,3395);
\draw[br] (k309) -- (k324);
\draw[arr] (k324) -- (324,3370);
\draw[br] (k309) -- (z16);
\coordinate (k309m) at (309,3603);
\cl{c1}{524.2}{ash}{aus}
\cl{c2}{513.4}{c1}{rud}
\cl{c3}{507}{cyn}{sal}
\cl{c4}{496}{c2}{c3}
\cl{c5}{468.8}{c4}{pst}
\cl{c6}{458}{c5}{bck}
\cl{c7}{454}{c6}{not}
\cl{c8}{454}{cfh2}{oco}
\cl{c9}{381.4}{c7}{c8}
\cl{d1}{490}{ste}{fus}
\cl{d2}{486}{d1}{trn}
\cl{d3}{483}{d2}{ovc}
\cl{d4}{467}{d3}{amy}
\cl{d5}{386}{acg}{pus}
\cl{d6}{364.8}{d4}{d5}
\cl{n480}{306}{c9}{d6}
\cl{n437}{278.7}{k309m}{n480}
\cl{t1}{310.6}{txc}{tor}
\cl{n338}{215.6}{n437}{t1}
\cl{rt}{75.3}{n338}{cor}
\coordinate (rs) at (61,0 |- rt);
\draw[br] (rs) -- (rt);
\draw[br] (379,4072) -- (392,4054) (392,4072) -- (405,4054);

\sv{638}{3379}{99/98/1}
\sv{625}{3390}{99/96/1}
\sv{285}{3390}{58/-/0.9}
\sv{564}{3399}{100/100/1}
\svl{446}{3402}{73/54/0.98}{523,3432}
\sv{473}{3422}{54/-/-}
\svl{450}{3442}{84/89/1}{520,3457}
\sv{453}{3467}{99/81/1}
\sv{502}{3492}{100/100/1}
\sv{510}{3506}{92/96/1}
\sv{421}{3506}{98/84/1}
\sv{483}{3527}{86/67/1}
\sv{379}{3534}{99/72/1}
\sv{429}{3555}{64/63/-}
\sv{353}{3557}{98/79/1}
\sv{421}{3582}{100/100/1}
\sv{268}{3597}{56/-/0.9}
\sv{437}{3606}{96/93/1}
\sv{427}{3617}{89/84/1}
\sv{420}{3632}{78/71/1}
\svl{400}{3641}{52/61/-}{472,3647}
\svl{392}{3649}{80/75/1}{462,3658}
\sv{395}{3658}{65/67/0.9}
\sv{472}{3696}{100/100/1}
\sv{386}{3696}{95/90/1}
\sv{448}{3706}{100/100/1}
\svl{395}{3711}{61/-/-}{444,3727}
\svl{387}{3725}{81/63/1}{440,3740}
\sv{337}{3741}{60/-/-}
\sv{405}{3748}{77/50/1}
\sv{224.5}{3776}{59/84/0.9}
\sv{326.5}{3785}{100/99/1}
\sv{481.5}{3822}{100/97/1}
\sv{475}{3834}{99/96/1}
\sv{453}{3847}{100/97/1}
\svl{407}{3854}{100/100/1}{501,3865}
\sv{414.5}{3864}{64/69/0.94}
\sv{422}{3878}{50/51/-}
\sv{400}{3892}{100/98/1}
\sv{330}{3908}{96/91/1}
\sv{400}{3925}{100/98/1}
\sv{461}{3951}{52/-/-}
\sv{458}{3960}{51/-/-}
\sv{258}{3964}{53/75/0.9}
\sv{444.5}{3970}{96/96/1}
\sv{397}{3983}{100/99/1}
\sv{319}{3998}{98/96/1}
\sv{347.6}{4023}{93/65/1}
\sv{245.5}{4039}{100/88/1}

% --- scale bar ---
\coordinate (sb1) at (116.7,4075);
\coordinate (sb2) at (215.6,4075);
\draw[line width=1.1pt] (sb1) -- (sb2);
\node[supfont, below=3pt of $(sb1)!.5!(sb2)$] (sbl) {0.09};

% --- white gaps between the panels ---
\begin{pgfonlayer}{bg}
  \fill[white] (0,1435) rectangle (1000,1439);
  \fill[white] (0,2301) rectangle (1000,2304);
  \fill[white] (0,2600.5) rectangle (1000,2604);
  \fill[white] (0,3366) rectangle (1000,3371);
\end{pgfonlayer}

\end{tikzpicture}
\end{document}
